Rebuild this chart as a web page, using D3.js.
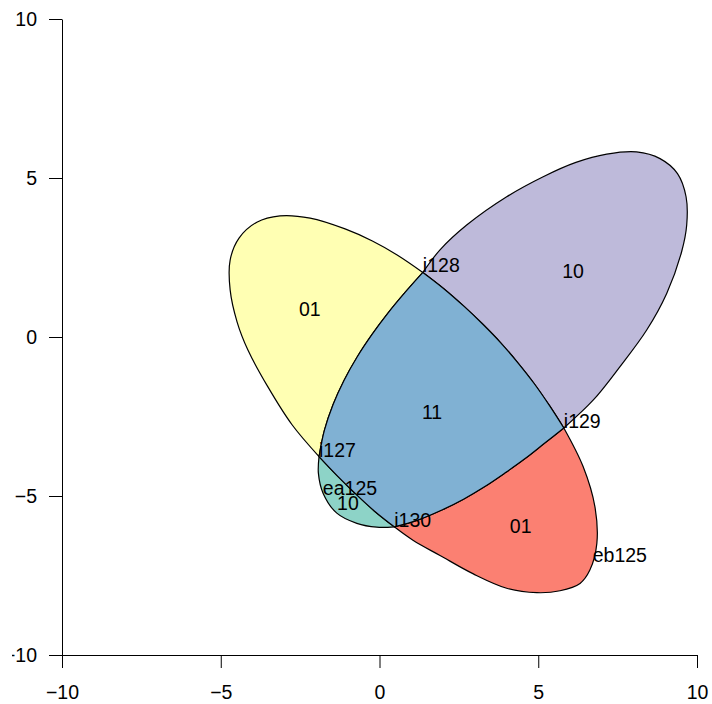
<!DOCTYPE html>
<html><head><meta charset="utf-8">
<script src="https://cdn.jsdelivr.net/npm/d3@7"></script>
<style>
body{margin:0;background:#fff}
svg{display:block}
text{font-family:"Liberation Sans",Arial,Helvetica,sans-serif}
</style>
</head><body>
<svg id="chart" width="712" height="704"></svg>
<script>
// ---- data ----
const xTicks = [-10, -5, 0, 5, 10];
const yTicks = [-10, -5, 0, 5, 10];

// boundary arcs (data coords)
// ellipse 1 pieces
const arcA1 = [[1.35,2.03],[0.54,2.58],[-0.24,3.02],[-1.10,3.40],[-2.20,3.74],[-3.15,3.81],[-3.88,3.61],[-4.44,3.11],[-4.72,2.42],[-4.72,1.48],[-4.50,0.47],[-4.16,-0.41],[-3.53,-1.57],[-2.77,-2.76],[-1.92,-3.76]]; // i128 -> i127 (outer, yellow)
const arcA2 = [[-1.92,-3.76],[-1.36,-4.35],[-0.78,-4.92],[-0.18,-5.47],[0.45,-5.97]]; // i127 -> i130
const arcA3 = [[0.45,-5.97],[1.05,-6.40],[1.89,-6.87],[2.94,-7.45],[3.99,-7.90],[4.94,-8.04],[5.67,-7.98],[6.30,-7.75],[6.61,-7.33],[6.83,-6.49],[6.77,-5.34],[6.40,-4.08],[5.79,-2.86]]; // i130 -> i129 (outer, red)
const arcA4 = [[5.79,-2.86],[5.34,-2.16],[4.86,-1.47],[4.35,-0.82],[3.81,-0.19],[3.24,0.40],[2.64,0.97],[2.01,1.52],[1.35,2.03]]; // i129 -> i128
// ellipse 2 pieces
const arcB1 = [[5.79,-2.86],[6.72,-1.98],[7.56,-0.93],[8.40,0.22],[9.03,1.37],[9.50,2.68],[9.66,3.52],[9.64,4.41],[9.37,5.14],[8.82,5.61],[8.08,5.82],[7.14,5.75],[6.17,5.49],[5.14,5.04],[3.99,4.41],[2.73,3.52],[1.89,2.74],[1.35,2.03]]; // i129 -> i128 (outer, purple)
const arcB2 = [[1.35,2.03],[0.79,1.40],[0.25,0.75],[-0.25,0.08],[-0.72,-0.63],[-1.13,-1.36],[-1.48,-2.13],[-1.75,-2.93],[-1.92,-3.76]]; // i128 -> i127
const arcB3 = [[-1.92,-3.76],[-1.94,-4.29],[-1.79,-4.92],[-1.36,-5.54],[-0.73,-5.86],[-0.10,-5.98],[0.45,-5.97]]; // i127 -> i130 (outer, teal)
const arcB4 = [[0.45,-5.97],[1.21,-5.75],[1.93,-5.45],[2.63,-5.10],[3.29,-4.71],[3.93,-4.28],[4.56,-3.83],[5.17,-3.35],[5.79,-2.86]]; // i130 -> i129

const regionNames  = ["01", "10", "10", "01", "11"];
const regionLabelX = [-2.21, 6.08, -1.01, 4.43, 1.64];
const regionLabelY = [0.86, 2.08, -5.21, -5.94, -2.37];

const pointNames = ["i127", "i128", "i129", "i130", "ea125", "eb125"];
const pointX = [-1.92, 1.35, 5.79, 0.45, -1.80, 6.70];
const pointY = [-3.76, 2.03, -2.86, -5.97, -4.97, -7.07];

// ---- styles ----
const regionColors = ["#FFFFB3", "#BEBADA", "#8DD3C7", "#FB8072", "#80B1D3"];
const rev = a => a.slice().reverse();
const regionArcs = [
  [arcA1, rev(arcB2)],                          // yellow
  [arcB1, rev(arcA4)],                          // purple
  [arcB3, rev(arcA2)],                          // teal
  [arcA3, rev(arcB4)],                          // red
  [rev(arcA4), rev(arcB4), rev(arcA2), rev(arcB2)] // blue (intersection)
];

const svg = d3.select("#chart");
const x = d3.scaleLinear().domain([-10, 10]).range([62.5, 697.5]);
const y = d3.scaleLinear().domain([-10, 10]).range([655, 19]);
const FS = 19.5;

const arcLine = d3.line().x(d => x(d[0])).y(d => y(d[1])).curve(d3.curveCatmullRom.alpha(0.5));
function regionPath(arcs) {
  return arcs.map((a, i) => {
    const p = arcLine(a);
    return i === 0 ? p : "L" + p.slice(1);
  }).join("") + "Z";
}

svg.append("g").selectAll("path")
  .data(regionArcs)
  .join("path")
  .attr("d", d => regionPath(d))
  .attr("fill", (d, i) => regionColors[i])
  .attr("stroke", "#000")
  .attr("stroke-width", 1.2)
  .attr("stroke-linejoin", "round");

// axes
svg.append("defs").append("clipPath").attr("id", "yclip")
  .append("rect").attr("x", -50).attr("y", -50).attr("width", 200).attr("height", 800);

const yAxis = svg.append("g")
  .attr("transform", "translate(62,0)")
  .attr("clip-path", "url(#yclip)")
  .call(d3.axisLeft(y).tickValues(yTicks).tickSize(13).tickSizeOuter(0).tickPadding(12));
const xAxis = svg.append("g")
  .attr("transform", "translate(-0.5,655)")
  .call(d3.axisBottom(x).tickValues(xTicks).tickSize(13).tickSizeOuter(0).tickPadding(17));

[yAxis, xAxis].forEach(g => {
  g.selectAll("path, line").attr("stroke", "#000").attr("stroke-width", 1);
  g.selectAll("text").attr("font-size", FS).attr("fill", "#000")
    .style("font-family", '"Liberation Sans", Arial, sans-serif');
});

// region labels
svg.append("g").selectAll("text")
  .data(regionNames)
  .join("text")
  .attr("x", (d, i) => x(regionLabelX[i]))
  .attr("y", (d, i) => y(regionLabelY[i]))
  .attr("dy", "0.35em")
  .attr("text-anchor", "middle")
  .attr("font-size", FS)
  .attr("fill", "#000")
  .text(d => d);

// point labels
svg.append("g").selectAll("text")
  .data(pointNames)
  .join("text")
  .attr("x", (d, i) => x(pointX[i]))
  .attr("y", (d, i) => y(pointY[i]))
  .attr("text-anchor", "start")
  .attr("font-size", FS)
  .attr("fill", "#000")
  .text(d => d);
</script>
</body></html>
